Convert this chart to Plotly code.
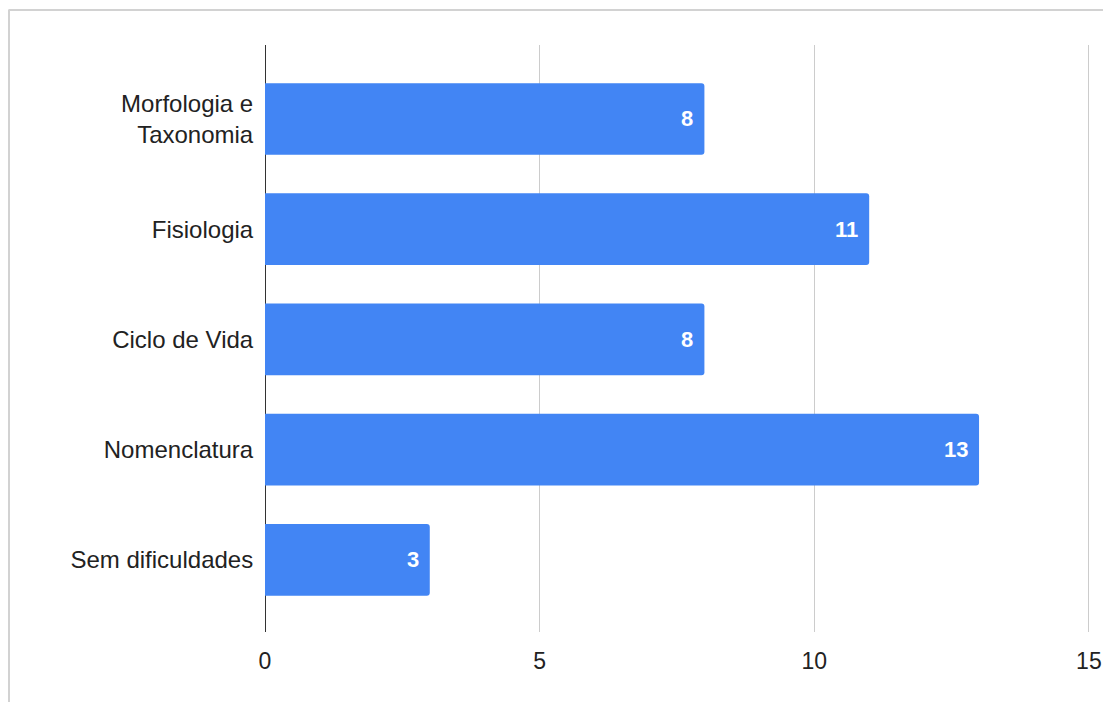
import plotly.graph_objects as go

categories = ["Morfologia e<br>Taxonomia", "Fisiologia", "Ciclo de Vida", "Nomenclatura", "Sem dificuldades"]
values = [8, 11, 8, 13, 3]
x_ticks = [0, 5, 10, 15]

FONT = "Arial, Liberation Sans, sans-serif"
BLUE = "#4285F4"

idx = list(range(len(categories)))

fig = go.Figure()
fig.add_trace(go.Bar(
    x=values, y=idx, orientation="h",
    marker=dict(color=BLUE, line=dict(width=0), cornerradius=3),
    width=0.65, hoverinfo="x+y",
))

for i, v in zip(idx, values):
    fig.add_annotation(x=v, y=i, text=f"<b>{v}</b>", showarrow=False,
                       xanchor="right", yanchor="middle", xshift=-9,
                       font=dict(family=FONT, size=22, color="white"))

# outer frame (top and left edges of the cropped chart container)
fig.add_shape(type="line", xref="paper", yref="paper",
              x0=-0.311, x1=1.1, y0=1.0596, y1=1.0596,
              line=dict(color="#d2d2d2", width=2))
fig.add_shape(type="line", xref="paper", yref="paper",
              x0=-0.3103, x1=-0.3103, y0=-0.2, y1=1.0596,
              line=dict(color="#d2d2d2", width=2))

fig.update_layout(
    width=1108, height=694,
    margin=dict(l=257, r=26, t=37, b=70),
    paper_bgcolor="white", plot_bgcolor="white",
    showlegend=False,
    font=dict(family=FONT, size=24, color="#222222"),
    xaxis=dict(range=[0, 15.02], tickvals=x_ticks, showgrid=True,
               gridcolor="#cccccc", gridwidth=1, zeroline=True,
               zerolinecolor="#333333", zerolinewidth=1,
               ticks="outside", ticklen=8, tickcolor="rgba(0,0,0,0)",
               tickfont=dict(size=23, color="#222222", family=FONT),
               showline=False),
    yaxis=dict(range=[4.655, -0.671], tickvals=idx, ticktext=categories,
               showgrid=False, zeroline=False, showline=False,
               ticks="outside", ticklen=6, tickcolor="rgba(0,0,0,0)",
               tickfont=dict(size=24, color="#222222", family=FONT)),
)

fig.write_html("out.html")
